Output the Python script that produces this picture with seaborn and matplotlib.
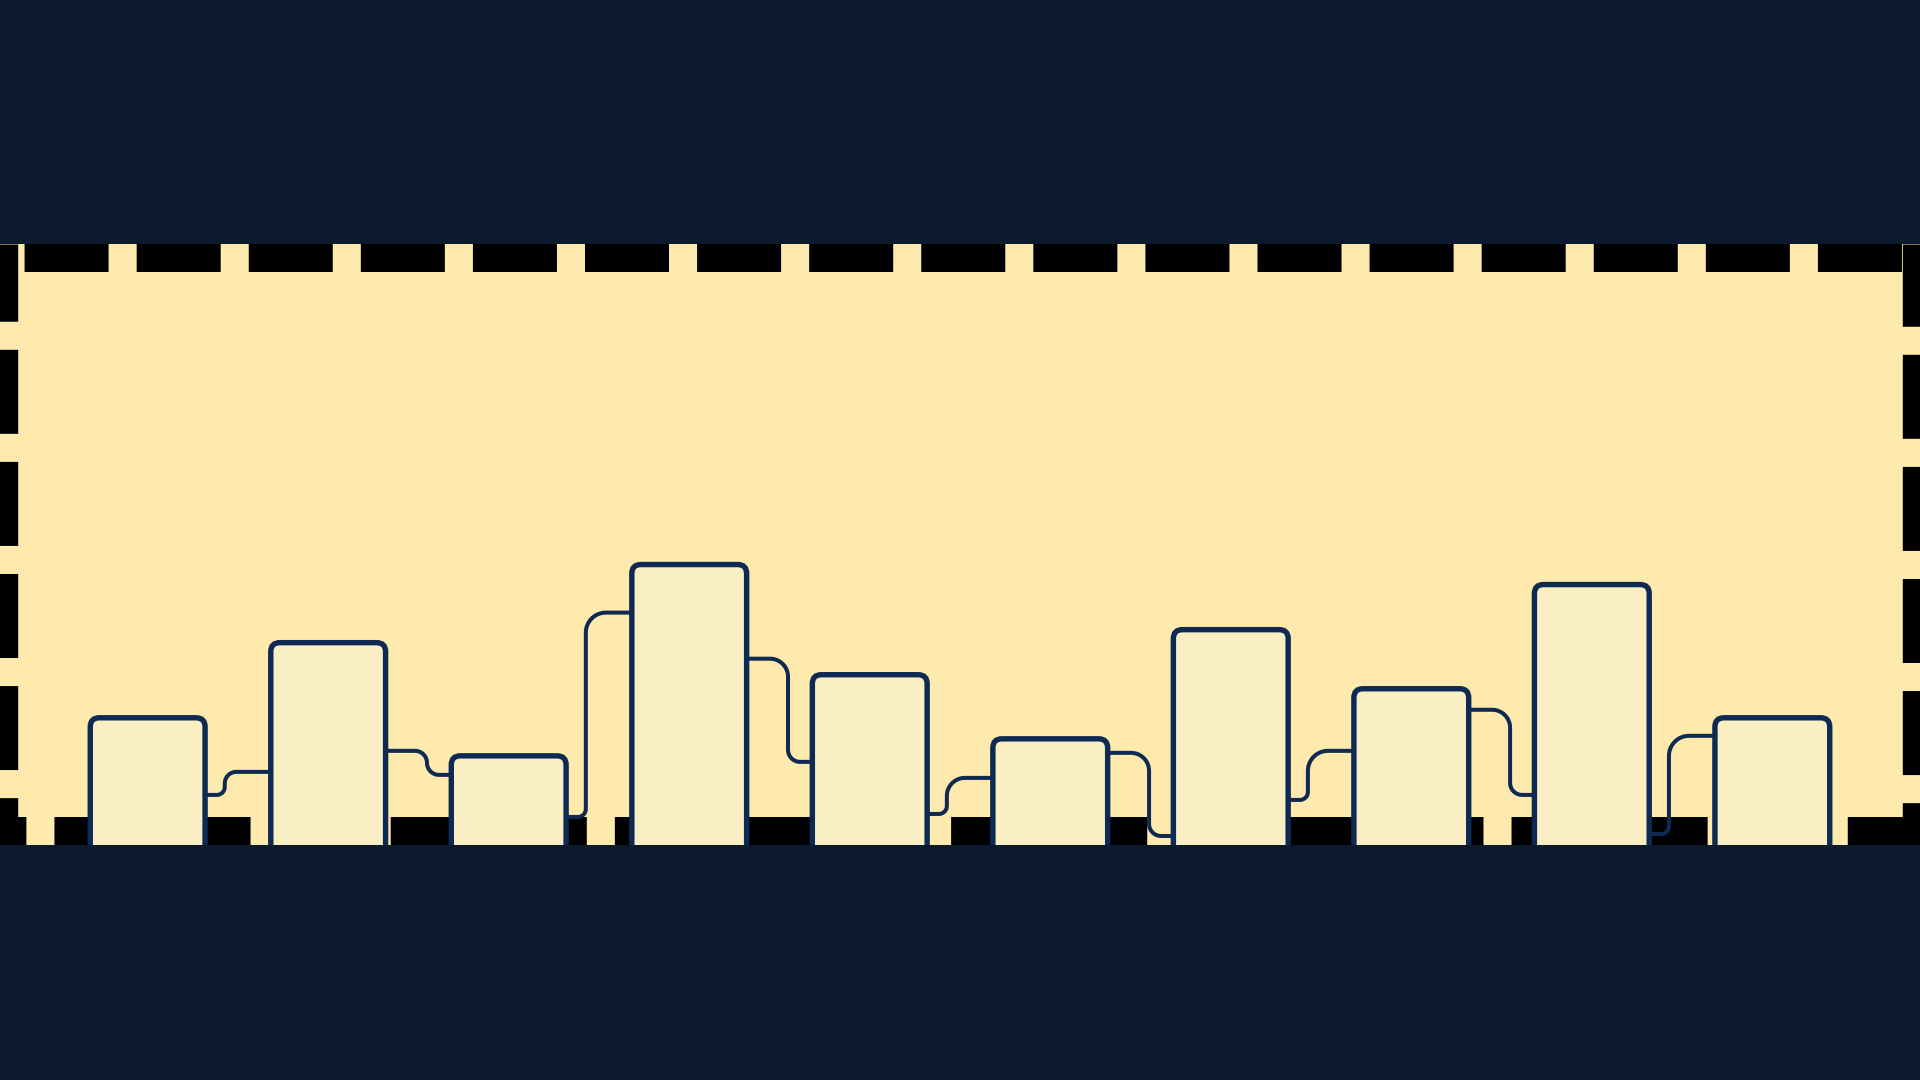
import matplotlib
matplotlib.use("Agg")
import numpy as np
import matplotlib.pyplot as plt
import seaborn as sns
from matplotlib.patches import FancyBboxPatch

# Bar values (one bar per slot, no labels shown in the original)
categories = ["s01", "s02", "s03", "s04", "s05", "s06", "s07", "s08", "s09", "s10"]
bar_values = [22.7, 30.2, 18.9, 38.0, 27.0, 20.6, 31.5, 25.6, 36.0, 22.7]

# Link lines between neighbouring bars: level where they leave / reach a bar
link_start = [15.0, 19.4, 12.8, 28.6, 13.1, 19.2, 14.5, 23.5, 11.1]
link_end = [17.3, 17.0, 33.2, 18.3, 16.7, 10.9, 19.4, 15.0, 20.9]

BG = "#0b1a2f"
PANEL = "#ffeaad"
BAR_FILL = "#faeec5"
EDGE = "#0e2a52"
BAR_WIDTH = 0.636

plt.rcParams["lines.scale_dashes"] = False

fig = plt.figure(figsize=(19.2, 10.8), dpi=100, facecolor=BG)
ax = fig.add_axes([0, 235 / 1080, 1, 601 / 1080])
ax.set_facecolor(PANEL)

sns.barplot(x=categories, y=bar_values, color=BAR_FILL, saturation=1,
            width=BAR_WIDTH, errorbar=None, ax=ax)

ax.set_xlim(-0.818, len(categories) - 1 + 0.818)
ax.set_ylim(10, 70)
ax.set_xticks([])
ax.set_yticks([])
ax.set_xlabel("")
ax.set_ylabel("")

# pixels per data unit, used for round corners
px_x = ax.transData.transform((1, 0))[0] - ax.transData.transform((0, 0))[0]
px_y = ax.transData.transform((0, 1))[1] - ax.transData.transform((0, 0))[1]
aspect = px_x / px_y

# swap the plain bars for rounded ones
for bar in list(ax.patches):
    x0, y0 = bar.get_x(), bar.get_y()
    w, h = bar.get_width(), bar.get_height()
    rounded = FancyBboxPatch((x0, y0), w, h,
                             boxstyle=f"round,pad=0,rounding_size={9 / px_x}",
                             mutation_aspect=aspect, facecolor=BAR_FILL,
                             edgecolor=EDGE, linewidth=3.9, zorder=3)
    bar.remove()
    ax.add_patch(rounded)


def arc(cx, cy, r, a0, a1, n=16):
    t = np.radians(np.linspace(a0, a1, n))
    return np.column_stack([cx + r * np.cos(t), cy + r * np.sin(t)])


def draw_link(x0, y0, x1, y1):
    # horizontal - vertical - horizontal with round corners, built in pixels
    rising = y1 > y0
    frac = 0.3 if rising else 0.63
    r_first, r_second = (8, 20) if rising else (18, 12)
    xv = x0 + frac * (x1 - x0)
    (X0, Y0), (XV, _), (X1, Y1) = ax.transData.transform([(x0, y0), (xv, y0), (x1, y1)])
    d = 1 if Y1 > Y0 else -1
    half = abs(Y1 - Y0) / 2
    ra = min(r_first, half, XV - X0)
    rb = min(r_second, half, X1 - XV)
    pts = np.vstack([
        [(X0, Y0)],
        arc(XV - ra, Y0 + d * ra, ra, -d * 90, 0),
        arc(XV + rb, Y1 - d * rb, rb, 180, 180 - d * 90),
        [(X1, Y1)],
    ])
    data = ax.transData.inverted().transform(pts)
    ax.plot(data[:, 0], data[:, 1], color=EDGE, linewidth=2.9,
            solid_capstyle="butt", solid_joinstyle="round", zorder=2)


for i in range(len(link_start)):
    draw_link(i + BAR_WIDTH / 2, link_start[i], i + 1 - BAR_WIDTH / 2, link_end[i])

# heavy dashed frame, only the inner half shows
dash_offsets = {"top": 63.0, "bottom": 41.5, "left": 26.4, "right": 30.0}
for side, spine in ax.spines.items():
    spine.set_visible(True)
    spine.set_color("black")
    spine.set_linewidth(40.3 if side in ("top", "bottom") else 25.5)
    spine.set_linestyle((dash_offsets[side], (60.5, 20.2)))
    spine.set_capstyle("butt")
    spine.set_zorder(0.5)
    spine.set_clip_path(ax.patch)

fig.savefig("out.png", dpi=100, facecolor=BG)
plt.close(fig)
